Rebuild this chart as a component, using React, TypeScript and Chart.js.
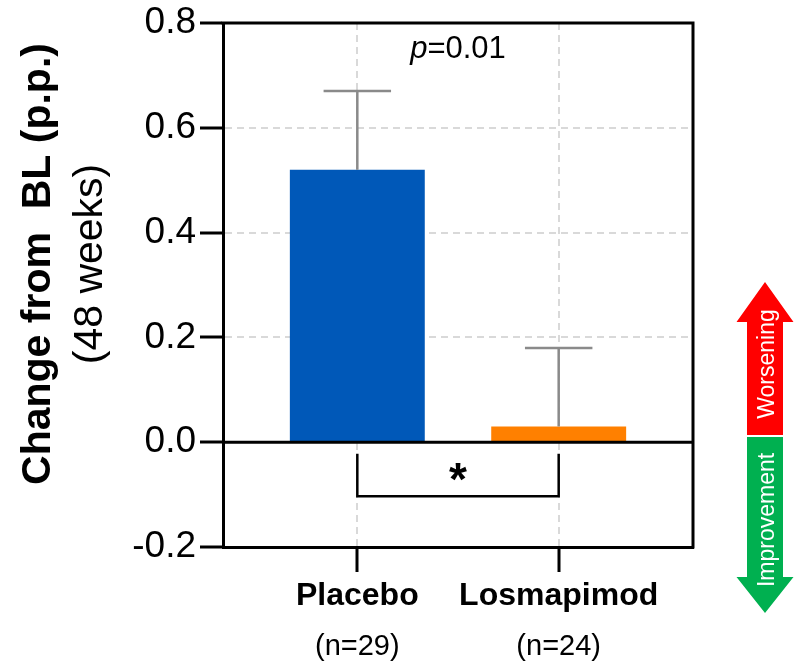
import React, { useEffect, useRef } from 'react';
import { Chart, registerables } from 'chart.js';

Chart.register(...registerables);

const categories = ['Placebo', 'Losmapimod'];
const sampleSizes = ['(n=29)', '(n=24)'];
const means = [0.52, 0.03];
const errors = [0.15, 0.15];
const barColors = ['#0058B8', '#FF8000'];
const yTicks = [-0.2, 0, 0.2, 0.4, 0.6, 0.8];
const pLabel = 'p';
const pValueText = '=0.01';
const significance = '*';
const yTitleLines = ['Change from  BL (p.p.)', '(48 weeks)'];
const arrowLabels = ['Worsening', 'Improvement'];

const FONT = "'Liberation Sans', Arial, Helvetica, sans-serif";

const overlayPlugin = {
  id: 'overlay',
  afterDraw(chart: any) {
    const { ctx, chartArea: a, scales } = chart;
    const x = scales.x;
    const y = scales.y;
    const meta = chart.getDatasetMeta(0);
    ctx.save();

    // error bars (upper only)
    ctx.strokeStyle = '#8a8a8a';
    ctx.lineWidth = 2.5;
    means.forEach((m, i) => {
      const bar = meta.data[i];
      const cx = x.getPixelForValue(i);
      const y0 = y.getPixelForValue(m);
      const y1 = y.getPixelForValue(m + errors[i]);
      const hw = bar.width / 4;
      ctx.beginPath();
      ctx.moveTo(cx, y0);
      ctx.lineTo(cx, y1);
      ctx.moveTo(cx - hw, y1);
      ctx.lineTo(cx + hw, y1);
      ctx.stroke();
    });

    // frame: zero line, top and right borders
    ctx.strokeStyle = '#000';
    ctx.lineWidth = 3;
    const yz = y.getPixelForValue(0);
    ctx.beginPath();
    ctx.moveTo(a.left, yz);
    ctx.lineTo(a.right, yz);
    ctx.moveTo(a.left - 1.5, a.top);
    ctx.lineTo(a.right + 1.5, a.top);
    ctx.moveTo(a.right, a.top);
    ctx.lineTo(a.right, a.bottom + 1.5);
    ctx.stroke();

    // significance bracket
    const bx0 = x.getPixelForValue(0);
    const bx1 = x.getPixelForValue(1);
    const byTop = y.getPixelForValue(-0.022);
    const byBot = y.getPixelForValue(-0.103);
    ctx.lineWidth = 2.5;
    ctx.beginPath();
    ctx.moveTo(bx0, byTop);
    ctx.lineTo(bx0, byBot);
    ctx.lineTo(bx1, byBot);
    ctx.lineTo(bx1, byTop);
    ctx.stroke();

    const mid = (bx0 + bx1) / 2;
    ctx.fillStyle = '#000';
    ctx.textAlign = 'center';
    ctx.textBaseline = 'alphabetic';
    ctx.font = `bold 46px ${FONT}`;
    ctx.fillText(significance, mid, y.getPixelForValue(-0.0515) + 0.57 * 46);

    // p-value
    ctx.textAlign = 'left';
    ctx.font = `italic 31px ${FONT}`;
    const wP = ctx.measureText(pLabel).width;
    ctx.font = `31px ${FONT}`;
    const wV = ctx.measureText(pValueText).width;
    const px0 = mid - (wP + wV) / 2;
    ctx.font = `italic 31px ${FONT}`;
    ctx.fillText(pLabel, px0, 58);
    ctx.font = `31px ${FONT}`;
    ctx.fillText(pValueText, px0 + wP, 58);

    // sample sizes
    ctx.textAlign = 'center';
    ctx.font = `29px ${FONT}`;
    sampleSizes.forEach((s, i) => {
      ctx.fillText(s, x.getPixelForValue(i), 655);
    });

    // y-axis title
    ctx.save();
    ctx.translate(50, 264);
    ctx.rotate(-Math.PI / 2);
    ctx.font = `bold 41px ${FONT}`;
    ctx.fillText(yTitleLines[0], 0, 0);
    ctx.restore();
    ctx.save();
    ctx.translate(102, 264);
    ctx.rotate(-Math.PI / 2);
    ctx.font = `41px ${FONT}`;
    ctx.fillText(yTitleLines[1], 0, 0);
    ctx.restore();

    // direction arrow
    const cx = 765;
    const hh = 28.5;
    const sh = 18;
    ctx.fillStyle = '#FF0000';
    ctx.beginPath();
    ctx.moveTo(cx, 282);
    ctx.lineTo(cx + hh, 322);
    ctx.lineTo(cx + sh, 322);
    ctx.lineTo(cx + sh, 435);
    ctx.lineTo(cx - sh, 435);
    ctx.lineTo(cx - sh, 322);
    ctx.lineTo(cx - hh, 322);
    ctx.closePath();
    ctx.fill();
    ctx.fillStyle = '#00B050';
    ctx.beginPath();
    ctx.moveTo(cx - sh, 437);
    ctx.lineTo(cx + sh, 437);
    ctx.lineTo(cx + sh, 577);
    ctx.lineTo(cx + hh, 577);
    ctx.lineTo(cx, 613);
    ctx.lineTo(cx - hh, 577);
    ctx.lineTo(cx - sh, 577);
    ctx.closePath();
    ctx.fill();

    ctx.fillStyle = '#fff';
    ctx.font = `23px ${FONT}`;
    ctx.textAlign = 'center';
    [364, 520].forEach((cy, i) => {
      ctx.save();
      ctx.translate(774, cy);
      ctx.rotate(-Math.PI / 2);
      ctx.fillText(arrowLabels[i], 0, 0);
      ctx.restore();
    });

    ctx.restore();
  },
};

export default function App() {
  const canvasRef = useRef<HTMLCanvasElement | null>(null);

  useEffect(() => {
    const canvas = canvasRef.current;
    if (!canvas) return;
    const chart = new Chart(canvas, {
      type: 'bar',
      data: {
        datasets: [
          {
            data: means.map((m, i) => ({ x: i, y: m })),
            backgroundColor: barColors,
            borderWidth: 0,
            barPercentage: 0.67,
            categoryPercentage: 1,
          },
        ],
      },
      options: {
        animation: false,
        responsive: false,
        devicePixelRatio: 1,
        layout: { padding: { top: 23, right: 101, left: 0, bottom: 0 } },
        plugins: { legend: { display: false }, tooltip: { enabled: false } },
        scales: {
          x: {
            type: 'linear',
            min: -0.667,
            max: 1.667,
            offset: false,
            afterBuildTicks: (scale: any) => {
              scale.ticks = categories.map((_, i) => ({ value: i }));
            },
            afterFit: (scale: any) => {
              scale.height = 116;
              scale.paddingLeft = 0;
              scale.paddingRight = 0;
            },
            ticks: {
              callback: (v: any) => categories[Math.round(Number(v))] ?? '',
              color: '#000',
              font: { family: FONT, size: 32, weight: 'bold' },
              padding: 5,
              maxRotation: 0,
              autoSkip: false,
            },
            grid: {
              offset: false,
              color: '#d9d9d9',
              lineWidth: 2,
              tickColor: '#000',
              tickWidth: 3,
              tickLength: 25,
            },
            border: { display: true, color: '#000', width: 3, dash: [7, 5] },
          },
          y: {
            type: 'linear',
            min: -0.2,
            max: 0.8,
            afterBuildTicks: (scale: any) => {
              scale.ticks = yTicks.map((v) => ({ value: v }));
            },
            afterFit: (scale: any) => {
              scale.width = 223;
              scale.paddingTop = 0;
              scale.paddingBottom = 0;
            },
            ticks: {
              callback: (v: any) => Number(v).toFixed(1),
              color: '#000',
              font: { family: FONT, size: 37 },
              padding: 4,
            },
            grid: {
              color: '#d9d9d9',
              lineWidth: 2,
              tickColor: '#000',
              tickWidth: 3,
              tickLength: 23,
            },
            border: { display: true, color: '#000', width: 3, dash: [7, 5] },
          },
        },
      },
      plugins: [overlayPlugin],
    } as any);
    return () => chart.destroy();
  }, []);

  return (
    <div style={{ position: 'absolute', left: 0, top: 0, width: 794, height: 663, background: '#fff' }}>
      <canvas ref={canvasRef} width={794} height={663} style={{ display: 'block' }} />
    </div>
  );
}
